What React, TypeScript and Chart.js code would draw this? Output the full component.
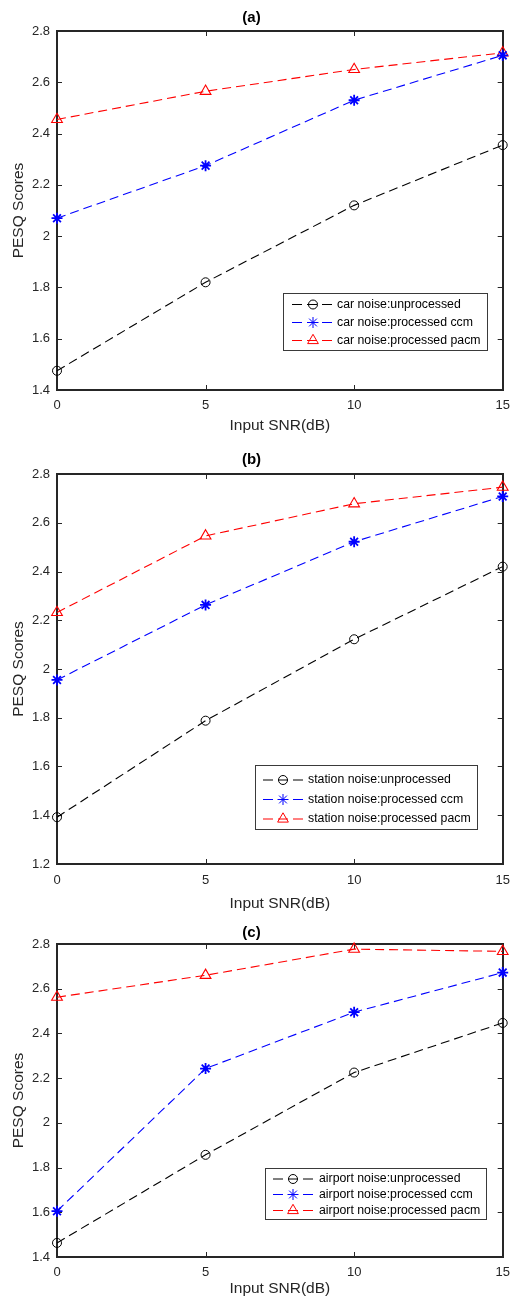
import React, { useEffect, useRef } from 'react';
import { Chart, registerables } from 'chart.js';
import { drawPoint } from 'chart.js/helpers';

Chart.register(...registerables);

// ---------- data ----------
const snrValues = [0, 5, 10, 15];
const xTickValues = [0, 5, 10, 15];

const carUnprocessed = [1.475, 1.82, 2.12, 2.355];
const carCcm = [2.07, 2.275, 2.53, 2.705];
const carPacm = [2.455, 2.565, 2.65, 2.715];

const stationUnprocessed = [1.392, 1.788, 2.122, 2.42];
const stationCcm = [1.955, 2.263, 2.522, 2.708];
const stationPacm = [2.232, 2.546, 2.678, 2.746];

const airportUnprocessed = [1.463, 1.857, 2.225, 2.447];
const airportCcm = [1.605, 2.243, 2.495, 2.672];
const airportPacm = [2.562, 2.66, 2.777, 2.767];

const panelTitles = ['(a)', '(b)', '(c)'];
const noiseNames = ['car noise', 'station noise', 'airport noise'];
const seriesNames = ['unprocessed', 'processed ccm', 'processed pacm'];
const yTickLabelsA = ['1.4', '1.6', '1.8', '2', '2.2', '2.4', '2.6', '2.8'];
const yTickLabelsB = ['1.2', '1.4', '1.6', '1.8', '2', '2.2', '2.4', '2.6', '2.8'];
const yTickLabelsC = ['1.4', '1.6', '1.8', '2', '2.2', '2.4', '2.6', '2.8'];
const xAxisTitle = 'Input SNR(dB)';
const yAxisTitle = 'PESQ Scores';

// ---------- styles ----------
const FONT = '"Liberation Sans", Arial, Helvetica, sans-serif';
const AXIS_COLOR = '#262626';
const seriesColors = ['#000000', '#0000ff', '#ff0000'];
const seriesMarkers = ['circle', 'star', 'triangle'];
const seriesRadius = [4.5, 5.5, 6.2];
const seriesMarkerWidth = [1, 1.8, 1.1];

const panelLayouts = [
  {
    top: 0, height: 440, titlePad: { top: 9.3, bottom: 3.7 }, xAxisHeight: 50, xTickPad: 7.5, xTitlePad: 4.7,
    legend: { box: [283, 293, 204, 57], rows: [304.5, 322.5, 340.5], line: [292, 333], marker: 313, textX: 337, font: 12.3 },
  },
  {
    top: 440, height: 475, titlePad: { top: 11, bottom: 5 }, xAxisHeight: 51, xTickPad: 9, xTitlePad: 2.4,
    legend: { box: [255, 325, 222, 64], rows: [340, 359.5, 379], line: [263, 303], marker: 283, textX: 308, font: 12.3 },
  },
  {
    top: 915, height: 382, titlePad: { top: 9, bottom: 2 }, xAxisHeight: 40, xTickPad: 7.5, xTitlePad: -1,
    legend: { box: [265, 253, 221, 51], rows: [264, 279.5, 295.5], line: [273, 315], marker: 293, textX: 319, font: 12.3 },
  },
];

const panelSeries = [
  [carUnprocessed, carCcm, carPacm],
  [stationUnprocessed, stationCcm, stationPacm],
  [airportUnprocessed, airportCcm, airportPacm],
];
const panelYTicks = [yTickLabelsA, yTickLabelsB, yTickLabelsC];

// ---------- plugins ----------
const framePlugin = {
  id: 'frame',
  beforeDatasetsDraw(chart: any) {
    const { ctx, chartArea: a, scales } = chart;
    ctx.save();
    ctx.strokeStyle = AXIS_COLOR;
    ctx.lineWidth = 1;
    const tl = 5;
    scales.x.ticks.forEach((t: any) => {
      const px = Math.round(scales.x.getPixelForValue(t.value)) + 0.5;
      ctx.beginPath();
      ctx.moveTo(px, a.bottom); ctx.lineTo(px, a.bottom - tl);
      ctx.moveTo(px, a.top); ctx.lineTo(px, a.top + tl);
      ctx.stroke();
    });
    scales.y.ticks.forEach((t: any) => {
      const py = Math.round(scales.y.getPixelForValue(t.value)) + 0.5;
      ctx.beginPath();
      ctx.moveTo(a.left, py); ctx.lineTo(a.left + tl, py);
      ctx.moveTo(a.right, py); ctx.lineTo(a.right - tl, py);
      ctx.stroke();
    });
    ctx.lineWidth = 2;
    ctx.strokeRect(Math.round(a.left), Math.round(a.top), Math.round(a.right - a.left), Math.round(a.bottom - a.top));
    ctx.restore();
  },
};

const boxLegendPlugin = {
  id: 'boxLegend',
  afterDraw(chart: any, _args: any, opts: any) {
    const { ctx } = chart;
    const [bx, by, bw, bh] = opts.box;
    ctx.save();
    ctx.fillStyle = '#ffffff';
    ctx.fillRect(bx, by, bw, bh);
    ctx.strokeStyle = '#3a3a3a';
    ctx.lineWidth = 1;
    ctx.strokeRect(bx + 0.5, by + 0.5, bw, bh);
    chart.data.datasets.forEach((ds: any, i: number) => {
      const y = opts.rows[i];
      ctx.strokeStyle = ds.borderColor;
      ctx.lineWidth = 1;
      ctx.setLineDash([10, 5]);
      ctx.beginPath();
      ctx.moveTo(opts.line[0], y);
      ctx.lineTo(opts.line[1], y);
      ctx.stroke();
      ctx.setLineDash([]);
      ctx.fillStyle = 'rgba(0,0,0,0)';
      ctx.strokeStyle = ds.pointBorderColor;
      drawPoint(ctx, { pointStyle: ds.pointStyle, rotation: 0, radius: ds.pointRadius, borderWidth: ds.pointBorderWidth }, opts.marker, y);
      ctx.fillStyle = '#000000';
      ctx.font = `${opts.font}px ${FONT}`;
      ctx.textBaseline = 'middle';
      ctx.textAlign = 'left';
      ctx.fillText(ds.label, opts.textX, y);
    });
    ctx.restore();
  },
};

function Panel({ index }: { index: number }) {
  const ref = useRef<HTMLCanvasElement>(null);
  const lay = panelLayouts[index];
  useEffect(() => {
    if (!ref.current) return;
    const yTicks = panelYTicks[index].map(Number);
    const yMin = yTicks[0];
    const yMax = yTicks[yTicks.length - 1];
    const datasets = panelSeries[index].map((vals, i) => ({
      label: `${noiseNames[index]}:${seriesNames[i]}`,
      data: snrValues.map((x, k) => ({ x, y: vals[k] })),
      borderColor: seriesColors[i],
      borderWidth: 1.1,
      borderDash: [9, 5],
      pointStyle: seriesMarkers[i],
      pointRadius: seriesRadius[i],
      pointBorderColor: seriesColors[i],
      pointBackgroundColor: 'rgba(0,0,0,0)',
      pointBorderWidth: seriesMarkerWidth[i],
      tension: 0,
      clip: false,
    }));
    const chart = new Chart(ref.current, {
      type: 'line',
      data: { datasets },
      plugins: [framePlugin, boxLegendPlugin],
      options: {
        animation: false,
        responsive: false,
        devicePixelRatio: 1,
        layout: { padding: { left: 0, right: 7, top: 0, bottom: 0 } },
        plugins: {
          legend: { display: false },
          tooltip: { enabled: false },
          title: {
            display: true,
            text: panelTitles[index],
            color: '#000000',
            font: { family: FONT, size: 15, weight: 'bold', lineHeight: 1.2 },
            padding: lay.titlePad,
          },
          boxLegend: lay.legend,
        } as any,
        scales: {
          x: {
            type: 'linear',
            min: xTickValues[0],
            max: xTickValues[xTickValues.length - 1],
            afterBuildTicks: (scale: any) => { scale.ticks = xTickValues.map((v) => ({ value: v })); },
            afterFit: (scale: any) => {
              scale.height = lay.xAxisHeight;
              scale.paddingLeft = 0;
              scale.paddingRight = 0;
            },
            grid: { display: false, drawTicks: false },
            border: { display: false },
            ticks: {
              padding: lay.xTickPad,
              color: AXIS_COLOR,
              font: { family: FONT, size: 13 },
              maxRotation: 0,
              callback: (v: any) => String(v),
            },
            title: {
              display: true,
              text: xAxisTitle,
              color: AXIS_COLOR,
              font: { family: FONT, size: 15.5, lineHeight: 1.2 },
              padding: { top: 0, bottom: lay.xTitlePad },
            },
          },
          y: {
            type: 'linear',
            min: yMin,
            max: yMax,
            afterBuildTicks: (scale: any) => { scale.ticks = yTicks.map((v) => ({ value: v })); },
            afterFit: (scale: any) => {
              scale.width = 57;
              scale.paddingTop = 0;
              scale.paddingBottom = 0;
            },
            grid: { display: false, drawTicks: false },
            border: { display: false },
            ticks: {
              padding: 7,
              color: AXIS_COLOR,
              font: { family: FONT, size: 13 },
              callback: (v: any) => {
                const k = yTicks.indexOf(Number(v));
                return k >= 0 ? panelYTicks[index][k] : String(v);
              },
            },
            title: {
              display: true,
              text: yAxisTitle,
              color: AXIS_COLOR,
              font: { family: FONT, size: 15.5, lineHeight: 1.2 },
              padding: { top: 9.5, bottom: 0 },
            },
          },
        },
      } as any,
    });
    return () => chart.destroy();
  }, [index]);
  return (
    <canvas
      ref={ref}
      width={510}
      height={lay.height}
      style={{ position: 'absolute', left: 0, top: lay.top, width: 510, height: lay.height, display: 'block' }}
    />
  );
}

export default function App() {
  return (
    <div style={{ position: 'absolute', left: 0, top: 0, width: 510, height: 1297, background: '#ffffff', overflow: 'hidden' }}>
      <Panel index={0} />
      <Panel index={1} />
      <Panel index={2} />
    </div>
  );
}
